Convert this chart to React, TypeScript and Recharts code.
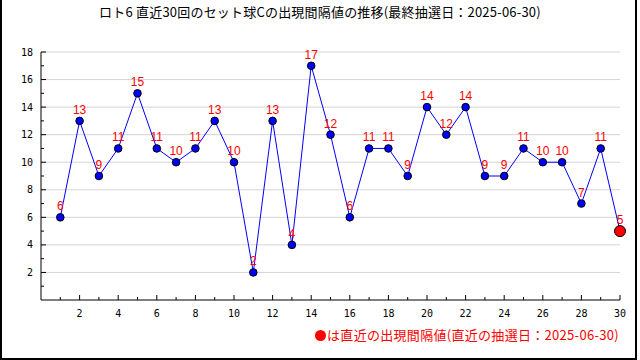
import React from "react";
import { LineChart, Line, XAxis, YAxis, ReferenceLine, LabelList } from "recharts";

const draws = [1,2,3,4,5,6,7,8,9,10,11,12,13,14,15,16,17,18,19,20,21,22,23,24,25,26,27,28,29,30];
const intervals = [6,13,9,11,15,11,10,11,13,10,2,13,4,17,12,6,11,11,9,14,12,14,9,9,11,10,10,7,11,5];
const xMajorTicks = [2,4,6,8,10,12,14,16,18,20,22,24,26,28,30];
const xMinorTicks = [1,3,5,7,9,11,13,15,17,19,21,23,25,27,29];
const yMajorTicks = [2,4,6,8,10,12,14,16,18];
const yMinorTicks = [1,3,5,7,9,11,13,15,17];
const titleText = "ロト6 直近30回のセット球Cの出現間隔値の推移(最終抽選日：2025-06-30)";
const noteText = "は直近の出現間隔値(直近の抽選日：2025-06-30)";

const data = draws.map((d, i) => ({ draw: d, value: intervals[i] }));
const xTicks = [...xMajorTicks, ...xMinorTicks].sort((a, b) => a - b);
const yTicks = [...yMajorTicks, ...yMinorTicks].sort((a, b) => a - b);
const lastIndex = data.length - 1;

const tickFont = "'DejaVu Sans Mono', monospace";

const YTick = (props: any) => {
  const { x, y, payload } = props;
  const v = payload.value;
  const major = yMajorTicks.includes(v);
  return (
    <g>
      <line x1={x} x2={x + (major ? 5 : 3)} y1={y} y2={y} stroke="#000" strokeWidth={1} />
      {major && (
        <text x={x - 8} y={y} dy={3.5} textAnchor="end" fontSize={10} fontFamily={tickFont} fill="#000">
          {v}
        </text>
      )}
    </g>
  );
};

const XTick = (props: any) => {
  const { x, y, payload } = props;
  const v = payload.value;
  const major = xMajorTicks.includes(v);
  return (
    <g>
      <line x1={x} x2={x} y1={y} y2={y - (major ? 5 : 3)} stroke="#000" strokeWidth={1} />
      {major && (
        <text x={x} y={y + 17} textAnchor="middle" fontSize={10} fontFamily={tickFont} fill="#000">
          {v}
        </text>
      )}
    </g>
  );
};

const Dot = (props: any) => {
  const { cx, cy, index } = props;
  const isLast = index === lastIndex;
  return (
    <circle
      key={"dot-" + index}
      cx={cx}
      cy={cy}
      r={isLast ? 5.5 : 3.8}
      fill={isLast ? "#ff0000" : "#0000ff"}
      stroke="#000"
      strokeWidth={1}
    />
  );
};

const ValueLabel = (props: any) => {
  const { x, y, value, index } = props;
  return (
    <text
      key={"lbl-" + index}
      x={x}
      y={y - 7}
      textAnchor="middle"
      fontSize={12}
      fontFamily="'Liberation Sans', Arial, sans-serif"
      fill="#ff0000"
    >
      {value}
    </text>
  );
};

export default function App() {
  return (
    <div style={{ position: "fixed", left: 0, top: 0, width: 640, height: 360, background: "#fff" }}>
      <div
        style={{
          position: "absolute",
          left: 0,
          top: 0,
          width: 640,
          textAlign: "center",
          fontFamily: "'Noto Sans CJK JP', sans-serif",
          fontSize: 13,
          lineHeight: "24px",
          color: "#000",
          letterSpacing: 0.2,
        }}
      >
        {titleText}
      </div>
      <div style={{ position: "absolute", left: 0, top: 0 }}>
        <LineChart width={640} height={360} data={data} margin={{ top: 52, right: 20, bottom: 40, left: 10 }}>
          <XAxis
            dataKey="draw"
            type="number"
            domain={[0, 30]}
            ticks={xTicks}
            interval={0}
            tickSize={0}
            tickMargin={0}
            tickLine={false}
            tick={<XTick />}
            axisLine={{ stroke: "#000", strokeWidth: 1 }}
            height={20}
          />
          <YAxis
            type="number"
            domain={[0, 18]}
            ticks={yTicks}
            interval={0}
            tickSize={0}
            tickMargin={0}
            tickLine={false}
            tick={<YTick />}
            axisLine={{ stroke: "#000", strokeWidth: 1 }}
            width={31}
          />
          {yMajorTicks.map((v) => (
            <ReferenceLine key={"g" + v} y={v} stroke="#d4d4d4" strokeWidth={1} />
          ))}
          <Line
            dataKey="value"
            type="linear"
            stroke="#0000ff"
            strokeWidth={1}
            dot={<Dot />}
            activeDot={false}
            isAnimationActive={false}
          >
            <LabelList dataKey="value" content={<ValueLabel />} />
          </Line>
        </LineChart>
      </div>
      <div
        style={{
          position: "absolute",
          right: 21,
          top: 326,
          display: "flex",
          alignItems: "center",
          fontFamily: "'Noto Sans CJK JP', sans-serif",
          fontSize: 13,
          lineHeight: "18px",
          color: "#ff0000",
          letterSpacing: 0.3,
        }}
      >
        <span
          style={{ display: "inline-block", width: 11, height: 11, borderRadius: "50%", background: "#ff0000", marginRight: 1 }}
        />
        <span>{noteText}</span>
      </div>
      <div
        style={{
          position: "absolute",
          left: 0,
          top: 0,
          width: 637,
          height: 360,
          boxSizing: "border-box",
          borderLeft: "2px solid #000",
          borderRight: "2px solid #000",
          borderBottom: "2px solid #000",
          pointerEvents: "none",
        }}
      />
    </div>
  );
}
